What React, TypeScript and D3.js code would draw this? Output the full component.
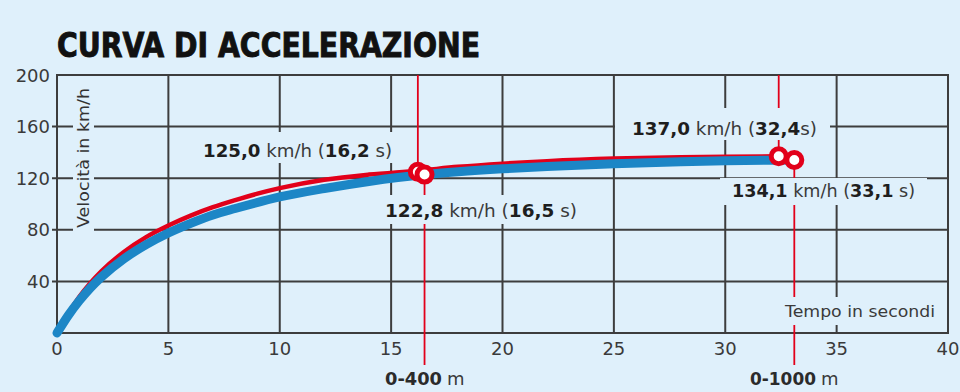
import React from "react";
import * as d3 from "d3";

const W = 960;
const H = 392;

const xTicks = [0, 5, 10, 15, 20, 25, 30, 35, 40];
const yTicks = [40, 80, 120, 160, 200];

// Red curve (km/h vs seconds)
const redTime = [0, 0.5, 1, 1.5, 2, 3, 4, 5, 6, 7, 8, 9, 10, 12, 14, 16.2, 18, 20, 22, 25, 28, 30, 32.4];
const redSpeed = [0, 15, 28, 38.8, 48, 62.8, 74.3, 83.3, 91, 97.5, 103, 108, 112.3, 118.8, 122.8, 125.8, 128.8, 131.3, 133.2, 135.2, 136.3, 136.7, 137.0];

// Blue curve
const blueTime = [0, 0.5, 1, 1.5, 2, 3, 4, 5, 6, 7, 8, 10, 12, 14, 16.5, 18, 20, 22, 25, 28, 30, 33.1];
const blueSpeed = [0, 13.5, 25, 35, 43.5, 57.5, 68.5, 77.5, 85, 91.5, 96.5, 105.5, 112, 117.5, 122.8, 125, 127.3, 129.1, 131.2, 132.8, 133.5, 134.1];

const markerRed = [16.2, 125.0];
const markerBlue = [16.5, 122.8];
const markerRed2 = [32.4, 137.0];
const markerBlue2 = [33.1, 134.1];

const BG = "#dff0fb";
const GRID = "#3d3d3d";
const RED = "#e2001a";
const BLUE = "#1c86c6";
const TXT = "#2b2b2b";
const FONT = "'DejaVu Sans', sans-serif";

type Ann = { x: number; cy: number; w: number; parts: [string, boolean][]; pl: number; pr: number; pt: number; pb: number };

const annotations: Ann[] = [
  { x: 203, cy: 150, w: 189, parts: [["125,0", true], [" km/h (", false], ["16,2", true], [" s)", false]], pl: 12, pr: 12, pt: 18, pb: 13 },
  { x: 385, cy: 210, w: 192, parts: [["122,8", true], [" km/h (", false], ["16,5", true], [" s)", false]], pl: 10, pr: 10, pt: 15, pb: 14 },
  { x: 632, cy: 128, w: 185, parts: [["137,0", true], [" km/h (", false], ["32,4", true], ["s)", false]], pl: 17, pr: 13, pt: 20, pb: 12 },
  { x: 732, cy: 190, w: 183, parts: [["134,1", true], [" km/h (", false], ["33,1", true], [" s)", false]], pl: 12, pr: 12, pt: 12, pb: 15 },
];

export default function App() {
  const x = d3.scaleLinear().domain([0, 40]).range([57, 948]);
  const y = d3.scaleLinear().domain([0, 200]).range([333, 75]);

  const line = d3
    .line<[number, number]>()
    .x((d) => x(d[0]))
    .y((d) => y(d[1]))
    .curve(d3.curveMonotoneX);

  const redPts = redTime.map((t, i) => [t, redSpeed[i]] as [number, number]);
  const bluePts = blueTime.map((t, i) => [t, blueSpeed[i]] as [number, number]);

  const redLines = [
    { t: markerRed[0], y1: y(200), y2: y(markerRed[1]) },
    { t: markerBlue[0], y1: y(markerBlue[1]), y2: 365 },
    { t: markerRed2[0], y1: y(200), y2: y(markerRed2[1]) },
    { t: markerBlue2[0], y1: y(markerBlue2[1]), y2: 365 },
  ];

  const fs = 18;
  return (
    <svg width={W} height={H} style={{ position: "absolute", left: 0, top: 0 }} xmlns="http://www.w3.org/2000/svg">
      <rect x={0} y={0} width={W} height={H} fill={BG} />

      {/* Title */}
      <text x={57} y={57} fontFamily="'DejaVu Sans Condensed', 'DejaVu Sans', sans-serif" fontWeight="bold" fontSize={33} fill="#111" stroke="#111" strokeWidth={0.9} textLength={423} lengthAdjust="spacingAndGlyphs">
        CURVA DI ACCELERAZIONE
      </text>

      {/* Grid */}
      {xTicks.slice(1, -1).map((t) => (
        <line key={"v" + t} x1={x(t)} x2={x(t)} y1={y(0)} y2={y(200)} stroke={GRID} strokeWidth={2} />
      ))}
      {yTicks.slice(0, -1).map((v) => (
        <line key={"h" + v} x1={x(0) - 5} x2={x(40)} y1={y(v)} y2={y(v)} stroke={GRID} strokeWidth={2} />
      ))}
      <rect x={x(0)} y={y(200)} width={x(40) - x(0)} height={y(0) - y(200)} fill="none" stroke={GRID} strokeWidth={2} />

      {/* Y tick labels */}
      {yTicks.map((v) => (
        <text key={"yl" + v} x={50} y={y(v) + 6.5} textAnchor="end" fontFamily={FONT} fontSize={fs} fill="#3a3a3a">
          {v}
        </text>
      ))}
      {/* X tick labels */}
      {xTicks.map((t) => (
        <text key={"xl" + t} x={x(t)} y={354.5} textAnchor="middle" fontFamily={FONT} fontSize={fs} fill="#3a3a3a">
          {t}
        </text>
      ))}

      {/* Red reference lines */}
      {redLines.map((l, i) => (
        <line key={"r" + i} x1={x(l.t)} x2={x(l.t)} y1={l.y1} y2={l.y2} stroke={RED} strokeWidth={1.8} />
      ))}

      {/* Y axis label */}
      <rect x={73} y={86} width={21} height={146} fill={BG} />
      <text transform={`translate(89,158) rotate(-90)`} textAnchor="middle" fontFamily={FONT} fontSize={16} fill="#333" textLength={140} lengthAdjust="spacingAndGlyphs">
        Velocità in km/h
      </text>

      {/* Tempo label */}
      <rect x={779} y={297} width={162} height={28} fill={BG} />
      <text x={785} y={317} fontFamily={FONT} fontSize={16} fill="#3a3a3a" textLength={150} lengthAdjust="spacingAndGlyphs">
        Tempo in secondi
      </text>

      {/* Annotations */}
      {annotations.map((a, i) => (
        <g key={"a" + i}>
          <rect x={a.x - a.pl} y={a.cy - a.pt} width={a.w + a.pl + a.pr} height={a.pt + a.pb} fill={BG} />
          <text x={a.x} y={a.cy + 6.5} fontFamily={FONT} fontSize={fs} fill={TXT} textLength={a.w} lengthAdjust="spacingAndGlyphs">
            {a.parts.map((p, j) => (
              <tspan key={j} fontWeight={p[1] ? "bold" : "normal"} fill={p[1] ? "#1e1e1e" : "#3a3a3a"}>
                {p[0]}
              </tspan>
            ))}
          </text>
        </g>
      ))}

      {/* Distance labels */}
      <text x={385} y={384.5} fontFamily={FONT} fontSize={fs} fontWeight="bold" fill={TXT} textLength={57} lengthAdjust="spacingAndGlyphs">
        0-400
      </text>
      <text x={447} y={384.5} fontFamily={FONT} fontSize={fs} fill="#3a3a3a">
        m
      </text>
      <text x={750} y={384.5} fontFamily={FONT} fontSize={fs} fontWeight="bold" fill={TXT} textLength={66} lengthAdjust="spacingAndGlyphs">
        0-1000
      </text>
      <text x={821} y={384.5} fontFamily={FONT} fontSize={fs} fill="#3a3a3a">
        m
      </text>

      {/* Curves */}
      <path d={line(redPts) || ""} fill="none" stroke={RED} strokeWidth={4.5} strokeLinecap="round" />
      <path d={line(bluePts) || ""} fill="none" stroke={BLUE} strokeWidth={9} strokeLinecap="round" />

      {/* Markers */}
      {[markerRed, markerBlue, markerRed2, markerBlue2].map((m, i) => (
        <circle key={"m" + i} cx={x(m[0])} cy={y(m[1])} r={7.5} fill="#fff" stroke={RED} strokeWidth={5} />
      ))}
    </svg>
  );
}
